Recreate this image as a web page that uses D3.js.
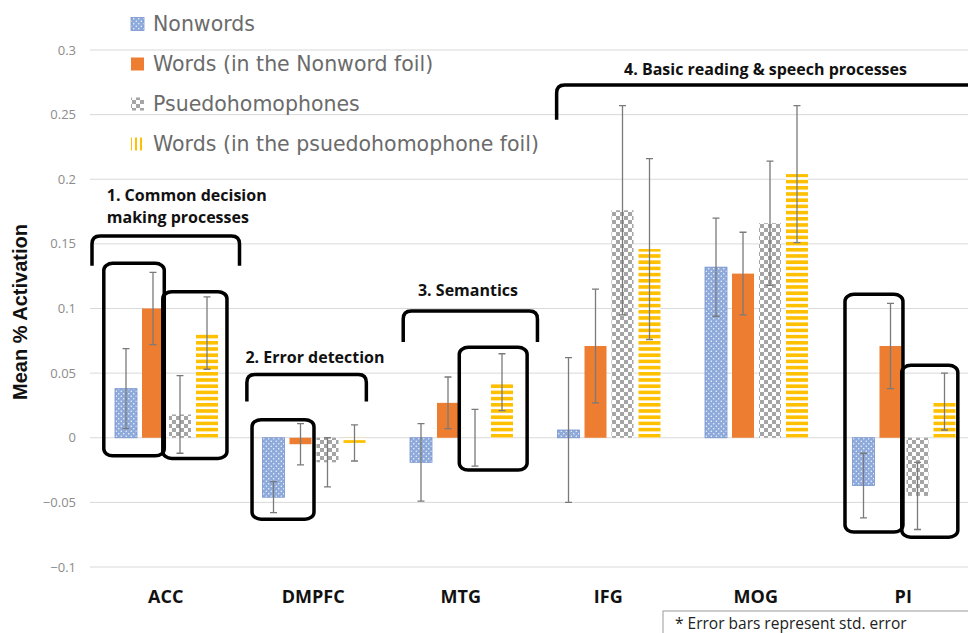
<!DOCTYPE html>
<meta charset="utf-8">
<style>
body { margin: 0; background: #fff; }
svg { display: block; font-family: "Open Sans", sans-serif; }
.grid line { stroke: #d9d9d9; stroke-width: 1; }
.tick-label { fill: #8c8c8c; font-size: 13px; }
.cat-label { fill: #111; font-size: 18px; font-weight: 700; }
.legend text { fill: #6b6b6b; font-family: "DejaVu Sans", sans-serif; font-size: 20.5px; }
.errbar { stroke: #7a7a7a; stroke-width: 1.3; fill: none; }
.bracket, .callout { fill: none; stroke: #000; stroke-width: 3.5; }
.note-text { fill: #222; font-size: 15.5px; }
.annot { fill: #111; font-size: 16px; font-weight: 700; }
</style>
<svg width="968" height="633"></svg>
<script src="https://d3js.org/d3.v7.min.js"></script>
<script>

// ---- data ----
var categories = ["ACC", "DMPFC", "MTG", "IFG", "MOG", "PI"];
var seriesKeys = ["nonwords", "words1", "pseudo", "words2"];
var seriesLabels = ["Nonwords", "Words (in the Nonword foil)", "Psuedohomophones", "Words (in the psuedohomophone foil)"];

var nonwords     = [0.038, -0.046, -0.019, 0.006, 0.132, -0.037];
var nonwordsErr  = [0.031,  0.012,  0.030, 0.056, 0.038,  0.025];
var words1       = [0.100, -0.005,  0.027, 0.071, 0.127,  0.071];
var words1Err    = [0.028,  0.016,  0.020, 0.044, 0.032,  0.033];
var pseudo       = [0.018, -0.019,  0.000, 0.176, 0.166, -0.045];
var pseudoErr    = [0.030,  0.019,  0.022, 0.081, 0.048,  0.026];
var words2       = [0.081, -0.004,  0.043, 0.146, 0.204,  0.028];
var words2Err    = [0.028,  0.014,  0.022, 0.070, 0.053,  0.022];

var yTicks = [-0.1, -0.05, 0, 0.05, 0.1, 0.15, 0.2, 0.25, 0.3];

// annotations, in category-index units (x) and value units (y)
var brackets = [
  {from: -0.50, to: 0.50, top: 0.156, leg: 0.133},
  {from: 0.55, to: 1.36, top: 0.049, leg: 0.028},
  {from: 1.61, to: 2.52, top: 0.098, leg: 0.074},
  {from: 2.65, to: 5.95, top: 0.273, leg: 0.246}
];
var callouts = [
  {from: -0.42, to: -0.01, top: 0.135, bottom: -0.014},
  {from: -0.02, to: 0.415, top: 0.113, bottom: -0.016},
  {from: 0.585, to: 1.005, top: 0.014, bottom: -0.063},
  {from: 1.99, to: 2.45, top: 0.070, bottom: -0.025},
  {from: 4.605, to: 4.998, top: 0.111, bottom: -0.073},
  {from: 4.99, to: 5.37, top: 0.056, bottom: -0.077}
];
var annotTexts = [
  {at: -0.40, v: 0.183, lines: ["1. Common decision", "making processes"]},
  {at: 0.54, v: 0.058, lines: ["2. Error detection"]},
  {at: 1.71, v: 0.110, lines: ["3. Semantics"]},
  {at: 3.107, v: 0.281, lines: ["4. Basic reading & speech processes"]}
];

var values = [nonwords, words1, pseudo, words2];
var errors = [nonwordsErr, words1Err, pseudoErr, words2Err];

var svg = d3.select("svg");
var width = 968;

var y = d3.scaleLinear().domain([-0.1, 0.3]).range([567, 50]);
var x0 = d3.scaleBand().domain(categories).range([92, 977]);
var x1 = d3.scaleBand().domain(seriesKeys).range([23, 126]).paddingInner(0.185);
var xi = d3.scaleLinear().domain([0, 1])
  .range([x0("ACC") + x0.bandwidth() / 2, x0("DMPFC") + x0.bandwidth() / 2]);

// patterns
var defs = svg.append("defs");
var dots = defs.append("pattern").attr("id", "dots")
  .attr("patternUnits", "userSpaceOnUse").attr("width", 5).attr("height", 5);
dots.append("rect").attr("width", 5).attr("height", 5).attr("fill", "#8eaadb");
dots.append("circle").attr("cx", 1.25).attr("cy", 1.25).attr("r", 0.7).attr("fill", "#fff");
dots.append("circle").attr("cx", 3.75).attr("cy", 3.75).attr("r", 0.7).attr("fill", "#fff");

var checker = defs.append("pattern").attr("id", "checker")
  .attr("patternUnits", "userSpaceOnUse").attr("width", 8).attr("height", 8);
checker.append("rect").attr("width", 8).attr("height", 8).attr("fill", "#fff");
checker.append("rect").attr("width", 4).attr("height", 4).attr("fill", "#a5a5a5");
checker.append("rect").attr("x", 4).attr("y", 4).attr("width", 4).attr("height", 4).attr("fill", "#a5a5a5");

var stripes = defs.append("pattern").attr("id", "stripes")
  .attr("patternUnits", "userSpaceOnUse").attr("width", 6).attr("height", 6.2);
stripes.append("rect").attr("width", 6).attr("height", 6.2).attr("fill", "#fff");
stripes.append("rect").attr("width", 6).attr("height", 3.6).attr("fill", "#ffc000");

var vstripes = defs.append("pattern").attr("id", "vstripes")
  .attr("patternUnits", "userSpaceOnUse").attr("width", 5).attr("height", 5);
vstripes.append("rect").attr("width", 5).attr("height", 5).attr("fill", "#fff");
vstripes.append("rect").attr("width", 2).attr("height", 5).attr("fill", "#ffc000");

var fills = {nonwords: "url(#dots)", words1: "#ed7d31", pseudo: "url(#checker)", words2: "url(#stripes)"};
var strokes = {nonwords: "#7895cf", words1: "none", pseudo: "none", words2: "none"};

// gridlines + tick labels
var grid = svg.append("g").attr("class", "grid");
grid.selectAll("line").data(yTicks).enter().append("line")
  .attr("x1", 90).attr("x2", width)
  .attr("y1", d => y(d)).attr("y2", d => y(d));
svg.append("g").selectAll("text").data(yTicks).enter().append("text")
  .attr("class", "tick-label")
  .attr("x", 76).attr("y", d => y(d)).attr("dy", "0.35em")
  .attr("text-anchor", "end")
  .text(d => d3.format("")(d));

// axis title
svg.append("text")
  .attr("transform", "translate(27," + 312 + ") rotate(-90)")
  .attr("text-anchor", "middle")
  .style("font-family", "'Liberation Sans', Arial, sans-serif")
  .style("font-weight", "700").style("font-size", "20px").style("fill", "#111")
  .text("Mean % Activation");

// bars
var rows = [];
categories.forEach(function(c, i) {
  seriesKeys.forEach(function(k, j) {
    rows.push({cat: c, key: k, v: values[j][i], e: errors[j][i]});
  });
});

var bars = svg.append("g");
bars.selectAll("rect").data(rows).enter().append("rect")
  .attr("x", d => x0(d.cat) + x1(d.key))
  .attr("y", d => y(Math.max(0, d.v)))
  .attr("width", x1.bandwidth())
  .attr("height", d => Math.abs(y(d.v) - y(0)))
  .attr("fill", d => fills[d.key])
  .attr("stroke", d => strokes[d.key])
  .attr("stroke-width", 0.8);

// error bars
var eb = svg.append("g");
rows.forEach(function(d) {
  var cx = x0(d.cat) + x1(d.key) + x1.bandwidth() / 2;
  var hi = y(d.v + d.e), lo = y(d.v - d.e);
  eb.append("path").attr("class", "errbar")
    .attr("d", "M" + cx + "," + hi + "V" + lo +
      "M" + (cx - 3.5) + "," + hi + "H" + (cx + 3.5) +
      "M" + (cx - 3.5) + "," + lo + "H" + (cx + 3.5));
});

// category labels
svg.append("g").selectAll("text").data(categories).enter().append("text")
  .attr("class", "cat-label")
  .attr("x", d => x0(d) + x0.bandwidth() / 2)
  .attr("y", 603)
  .attr("text-anchor", "middle")
  .text(d => d);

// callout boxes
svg.append("g").selectAll("rect").data(callouts).enter().append("rect")
  .attr("class", "callout")
  .attr("x", d => xi(d.from)).attr("y", d => y(d.top))
  .attr("width", d => xi(d.to) - xi(d.from))
  .attr("height", d => y(d.bottom) - y(d.top))
  .attr("rx", 9).attr("ry", 7);

// brackets
svg.append("g").selectAll("path").data(brackets).enter().append("path")
  .attr("class", "bracket")
  .attr("d", function(d) {
    var a = xi(d.from), b = xi(d.to), t = y(d.top), l = y(d.leg), r = 8;
    return "M" + a + "," + l + "V" + (t + r) + "Q" + a + "," + t + " " + (a + r) + "," + t +
      "H" + (b - r) + "Q" + b + "," + t + " " + b + "," + (t + r) + "V" + l;
  });

// annotation texts
annotTexts.forEach(function(d) {
  var t = svg.append("text").attr("class", "annot")
    .attr("x", xi(d.at)).attr("y", y(d.v));
  d.lines.forEach(function(line, i) {
    t.append("tspan").attr("x", xi(d.at)).attr("dy", i ? 22 : 0).text(line);
  });
});

// legend
var legendFills = ["url(#dots)", "#ed7d31", "url(#checker)", "url(#vstripes)"];
var legend = svg.append("g").attr("class", "legend");
seriesLabels.forEach(function(s, i) {
  var cy = 24 + i * 40;
  legend.append("rect").attr("x", 131).attr("y", cy - 6.5).attr("width", 13).attr("height", 13)
    .attr("fill", legendFills[i])
    .attr("stroke", i === 0 ? "#7895cf" : "none").attr("stroke-width", 0.8);
  legend.append("text").attr("x", 153).attr("y", cy).attr("dy", "0.36em").text(s);
});

// note box
svg.append("rect").attr("x", 663).attr("y", 611).attr("width", 330).attr("height", 40)
  .attr("fill", "#fff").attr("stroke", "#9a9a9a").attr("stroke-width", 1);
svg.append("text").attr("class", "note-text").attr("x", 675).attr("y", 629)
  .text("* Error bars represent std. error");

</script>
